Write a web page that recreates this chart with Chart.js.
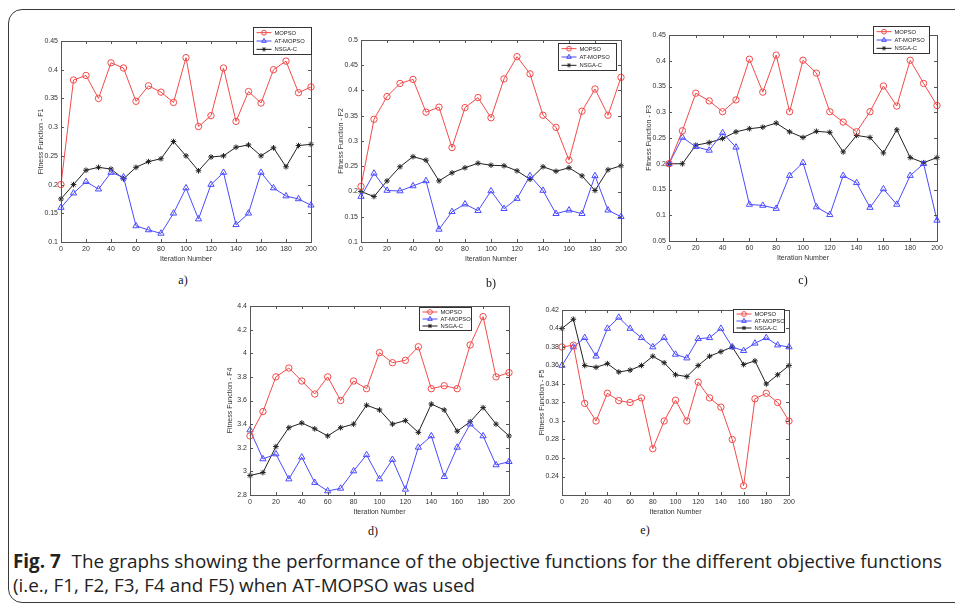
<!DOCTYPE html>
<html>
<head>
<meta charset="utf-8">
<script src="https://cdn.jsdelivr.net/npm/chart.js@4.4.1/dist/chart.umd.min.js"></script>
<style>
  body { margin: 0; background: #fff; width: 955px; height: 605px; overflow: hidden; position: relative; }
  .frame { position: absolute; left: 8px; top: 9px; width: 980px; height: 592px; border: 1.5px solid #3a3a3a; border-radius: 14px; }
  canvas { position: absolute; }
  .sub { position: absolute; font-family: "Liberation Serif", "Times New Roman", serif; font-size: 12px; color: #111; transform: translate(-50%, -50%); }
  .caption { position: absolute; left: 13px; top: 549px; font-family: "Liberation Sans Narrow", "Open Sans", sans-serif; font-size: 19px; line-height: 24px; color: #222; white-space: nowrap; transform-origin: 0 0; }
  .caption b { font-weight: bold; margin-right: 6px; }
</style>
</head>
<body>
<div class="frame"></div>
<canvas id="chartF1"></canvas>
<canvas id="chartF2"></canvas>
<canvas id="chartF3"></canvas>
<canvas id="chartF4"></canvas>
<canvas id="chartF5"></canvas>
<div class="sub" style="left:183px;top:280px">a)</div>
<div class="sub" style="left:491px;top:283px">b)</div>
<div class="sub" style="left:803px;top:280px">c)</div>
<div class="sub" style="left:373px;top:531px">d)</div>
<div class="sub" style="left:645px;top:530px">e)</div>
<div class="caption" id="caption">
  <div id="capLine1"><b>Fig. 7</b> The graphs showing the performance of the objective functions for the different objective functions</div>
  <div>(i.e., F1, F2, F3, F4 and F5) when AT-MOPSO was used</div>
</div>
<script>
const iterations = [0, 10, 20, 30, 40, 50, 60, 70, 80, 90, 100, 110, 120, 130, 140, 150, 160, 170, 180, 190, 200];
const seriesNames = ["MOPSO", "AT-MOPSO", "NSGA-C"];
const xTicks = [0, 20, 40, 60, 80, 100, 120, 140, 160, 180, 200];

const f1Mopso = [0.2, 0.382, 0.39, 0.35, 0.412, 0.403, 0.345, 0.372, 0.361, 0.343, 0.421, 0.301, 0.32, 0.403, 0.31, 0.362, 0.342, 0.4, 0.415, 0.36, 0.37];
const f1AtMopso = [0.16, 0.185, 0.205, 0.192, 0.221, 0.213, 0.128, 0.121, 0.115, 0.15, 0.194, 0.14, 0.2, 0.221, 0.13, 0.15, 0.221, 0.194, 0.18, 0.175, 0.164];
const f1Nsga = [0.175, 0.2, 0.225, 0.23, 0.227, 0.21, 0.23, 0.24, 0.245, 0.275, 0.25, 0.224, 0.248, 0.25, 0.265, 0.269, 0.25, 0.264, 0.231, 0.268, 0.27];
const f1Ticks = [0.1, 0.15, 0.2, 0.25, 0.3, 0.35, 0.4, 0.45];

const f2Mopso = [0.21, 0.343, 0.388, 0.414, 0.422, 0.357, 0.367, 0.287, 0.366, 0.386, 0.346, 0.423, 0.467, 0.433, 0.351, 0.327, 0.262, 0.359, 0.403, 0.351, 0.426];
const f2AtMopso = [0.19, 0.236, 0.202, 0.201, 0.211, 0.221, 0.125, 0.16, 0.175, 0.162, 0.201, 0.166, 0.186, 0.231, 0.202, 0.156, 0.163, 0.156, 0.231, 0.163, 0.15];
const f2Nsga = [0.2, 0.19, 0.221, 0.249, 0.269, 0.262, 0.221, 0.237, 0.247, 0.256, 0.252, 0.251, 0.241, 0.224, 0.249, 0.24, 0.247, 0.231, 0.202, 0.243, 0.251];
const f2Ticks = [0.1, 0.15, 0.2, 0.25, 0.3, 0.35, 0.4, 0.45, 0.5];

const f3Mopso = [0.2, 0.264, 0.337, 0.322, 0.301, 0.324, 0.403, 0.339, 0.411, 0.301, 0.401, 0.376, 0.301, 0.281, 0.262, 0.301, 0.351, 0.312, 0.401, 0.356, 0.313];
const f3AtMopso = [0.2, 0.251, 0.233, 0.226, 0.26, 0.232, 0.121, 0.119, 0.113, 0.177, 0.202, 0.116, 0.101, 0.177, 0.163, 0.115, 0.151, 0.121, 0.177, 0.2, 0.09];
const f3Nsga = [0.2, 0.2, 0.236, 0.241, 0.249, 0.262, 0.268, 0.271, 0.279, 0.262, 0.251, 0.263, 0.261, 0.223, 0.255, 0.251, 0.221, 0.266, 0.212, 0.202, 0.212];
const f3Ticks = [0.05, 0.1, 0.15, 0.2, 0.25, 0.3, 0.35, 0.4, 0.45];

const f4Mopso = [3.3, 3.506, 3.8, 3.875, 3.765, 3.655, 3.8, 3.6, 3.765, 3.7, 4.005, 3.92, 3.94, 4.055, 3.7, 3.725, 3.7, 4.07, 4.31, 3.8, 3.836];
const f4AtMopso = [3.35, 3.105, 3.147, 2.935, 3.12, 2.905, 2.834, 2.856, 3.003, 3.14, 2.935, 3.1, 2.848, 3.203, 3.3, 2.955, 3.203, 3.4, 3.3, 3.054, 3.082];
const f4Nsga = [2.965, 2.99, 3.21, 3.37, 3.41, 3.36, 3.3, 3.37, 3.4, 3.56, 3.52, 3.4, 3.43, 3.33, 3.57, 3.52, 3.34, 3.42, 3.54, 3.4, 3.3];
const f4Ticks = [2.8, 3, 3.2, 3.4, 3.6, 3.8, 4, 4.2, 4.4];

const f5Mopso = [0.38, 0.382, 0.319, 0.3, 0.33, 0.322, 0.32, 0.325, 0.27, 0.3, 0.3225, 0.3, 0.342, 0.325, 0.315, 0.28, 0.23, 0.324, 0.33, 0.32, 0.3];
const f5AtMopso = [0.36, 0.38, 0.39, 0.37, 0.4, 0.412, 0.4, 0.39, 0.38, 0.39, 0.372, 0.368, 0.389, 0.39, 0.4, 0.38, 0.376, 0.384, 0.39, 0.382, 0.38];
const f5Nsga = [0.4, 0.41, 0.36, 0.358, 0.362, 0.353, 0.355, 0.36, 0.37, 0.363, 0.35, 0.348, 0.36, 0.37, 0.375, 0.38, 0.361, 0.365, 0.34, 0.35, 0.36];
const f5Ticks = [0.24, 0.26, 0.28, 0.3, 0.32, 0.34, 0.36, 0.38, 0.4, 0.42];

const FONT = "'Liberation Sans', Arial, sans-serif";
const YW = 26, XH = 21, PT = 16, PR = 9;
const lineColors = ["#f24a4a", "#4a4aff", "#222222"];
const pointStyles = ["circle", "triangle", "star"];
const pointRadii = [3.2, 3.6, 2.8];

// MATLAB-like box with inward tick marks
const boxAxes = {
  id: "boxAxes",
  afterDraw(chart) {
    const { ctx, chartArea: a, scales } = chart;
    ctx.save();
    ctx.strokeStyle = "#555";
    ctx.lineWidth = 1;
    ctx.strokeRect(Math.round(a.left) + 0.5, Math.round(a.top) + 0.5, Math.round(a.right - a.left), Math.round(a.bottom - a.top));
    ctx.beginPath();
    scales.x.ticks.forEach(t => {
      const px = Math.round(scales.x.getPixelForValue(t.value)) + 0.5;
      ctx.moveTo(px, a.bottom); ctx.lineTo(px, a.bottom - 3);
      ctx.moveTo(px, a.top); ctx.lineTo(px, a.top + 3);
    });
    scales.y.ticks.forEach(t => {
      const py = Math.round(scales.y.getPixelForValue(t.value)) + 0.5;
      ctx.moveTo(a.left, py); ctx.lineTo(a.left + 3, py);
      ctx.moveTo(a.right, py); ctx.lineTo(a.right - 3, py);
    });
    ctx.stroke();
    ctx.restore();
  }
};

// boxed legend placed relative to the plot's top-right corner
const boxLegend = {
  id: "boxLegend",
  afterDraw(chart, args, opts) {
    const { ctx, chartArea: a } = chart;
    const x = Math.round(a.right - opts.dx - opts.w) + 0.5;
    const y = Math.round(a.top - opts.dy) + 0.5;
    ctx.save();
    ctx.fillStyle = "#fff";
    ctx.fillRect(x, y, opts.w, opts.h);
    ctx.strokeStyle = "#333";
    ctx.lineWidth = 1;
    ctx.strokeRect(x, y, opts.w, opts.h);
    const rowH = (opts.h - 2) / 3;
    ctx.font = "5.8px " + FONT;
    ctx.textBaseline = "middle";
    chart.data.datasets.forEach((ds, i) => {
      const cy = y + 1 + rowH * (i + 0.5);
      ctx.strokeStyle = ds.borderColor;
      ctx.beginPath();
      ctx.moveTo(x + 3, cy); ctx.lineTo(x + 18, cy);
      ctx.stroke();
      ctx.fillStyle = "rgba(0,0,0,0)";
      Chart.helpers.drawPoint(ctx, { pointStyle: ds.pointStyle, radius: ds.pointRadius * 0.75, borderWidth: 1, rotation: 0 }, x + 10.5, cy);
      ctx.fillStyle = "#222";
      ctx.fillText(ds.label, x + 21, cy + 0.5);
    });
    ctx.restore();
  }
};

function makeChart(id, box, yTicks, yMin, yMax, yTitle, values, legendPos) {
  const canvas = document.getElementById(id);
  canvas.style.left = (box.l - YW) + "px";
  canvas.style.top = (box.t - PT) + "px";
  canvas.width = box.r - box.l + YW + PR;
  canvas.height = box.b - box.t + PT + XH;

  const tickFont = { size: 7, family: FONT };
  return new Chart(canvas, {
    type: "line",
    data: {
      datasets: values.map((vals, i) => ({
        label: seriesNames[i],
        data: iterations.map((it, j) => ({ x: it, y: vals[j] })),
        borderColor: lineColors[i],
        backgroundColor: "rgba(0,0,0,0)",
        borderWidth: 1,
        pointStyle: pointStyles[i],
        pointRadius: pointRadii[i],
        pointBorderColor: lineColors[i],
        pointBackgroundColor: "rgba(0,0,0,0)",
        pointBorderWidth: 1,
        tension: 0,
        clip: false
      }))
    },
    options: {
      responsive: false,
      animation: false,
      devicePixelRatio: 1,
      layout: { padding: { top: PT, right: PR, left: 0, bottom: 0 } },
      plugins: {
        legend: { display: false },
        tooltip: { enabled: false },
        boxLegend: legendPos
      },
      scales: {
        x: {
          type: "linear", min: 0, max: 200,
          afterBuildTicks: s => { s.ticks = xTicks.map(v => ({ value: v })); },
          afterFit: s => { s.height = XH; },
          grid: { display: false, drawTicks: false },
          border: { display: false },
          ticks: { padding: 3, font: tickFont, color: "#333", maxRotation: 0, autoSkip: false, callback: v => String(v) },
          title: { display: true, text: "Iteration Number", font: tickFont, color: "#333", padding: 0 }
        },
        y: {
          type: "linear", min: yMin, max: yMax,
          afterBuildTicks: s => { s.ticks = yTicks.map(v => ({ value: v })); },
          afterFit: s => { s.width = YW; },
          grid: { display: false, drawTicks: false },
          border: { display: false },
          ticks: { padding: 3, font: tickFont, color: "#333", autoSkip: false, callback: v => String(v) },
          title: { display: true, text: yTitle, font: tickFont, color: "#333", padding: { top: 2, bottom: 0 } }
        }
      }
    },
    plugins: [boxAxes, boxLegend]
  });
}

makeChart("chartF1", { l: 61, t: 41, r: 311, b: 242 }, f1Ticks, 0.1, 0.45, "Fitness Function - F1",
  [f1Mopso, f1AtMopso, f1Nsga], { w: 58, h: 27, dx: 0, dy: 14 });
makeChart("chartF2", { l: 361, t: 40, r: 621, b: 242 }, f2Ticks, 0.1, 0.5, "Fitness Function - F2",
  [f2Mopso, f2AtMopso, f2Nsga], { w: 58, h: 27, dx: 5, dy: -3 });
makeChart("chartF3", { l: 669, t: 35, r: 937, b: 241 }, f3Ticks, 0.05, 0.45, "Fitness Function - F3",
  [f3Mopso, f3AtMopso, f3Nsga], { w: 56, h: 27, dx: 8, dy: 9 });
makeChart("chartF4", { l: 250, t: 306, r: 509, b: 495 }, f4Ticks, 2.8, 4.4, "Fitness Function - F4",
  [f4Mopso, f4AtMopso, f4Nsga], { w: 52, h: 23, dx: 38, dy: -1 });
makeChart("chartF5", { l: 562, t: 310, r: 789, b: 495 }, f5Ticks, 0.22, 0.42, "Fitness Function - F5",
  [f5Mopso, f5AtMopso, f5Nsga], { w: 51, h: 23, dx: 5, dy: 1 });

// fit the caption's first line to the width it spans in the figure
const line1 = document.getElementById("capLine1");
const cap = document.getElementById("caption");
const w = line1.getBoundingClientRect().width;
cap.style.transform = "scaleX(" + (929 / w) + ")";
</script>
</body>
</html>
